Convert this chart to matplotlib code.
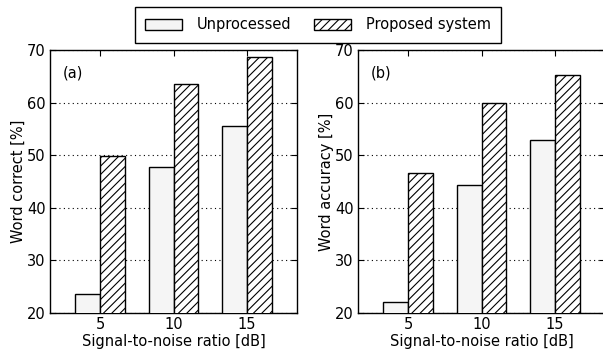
import matplotlib
matplotlib.use("Agg")
import matplotlib.pyplot as plt
from matplotlib.patches import Patch

snr = [5, 10, 15]
correct_unprocessed = [23.7, 47.7, 55.6]
correct_proposed = [49.8, 63.5, 68.6]
accuracy_unprocessed = [22.0, 44.4, 52.8]
accuracy_proposed = [46.7, 60.0, 65.2]

plt.rcParams["font.size"] = 10.5
plt.rcParams["hatch.linewidth"] = 0.8
plt.rcParams["xtick.direction"] = "in"
plt.rcParams["ytick.direction"] = "in"

fig = plt.figure(figsize=(6.03, 3.51), dpi=100)
W, H = 603.0, 351.0
ax1 = fig.add_axes([50 / W, 1 - 313 / H, 247 / W, 263 / H])
ax2 = fig.add_axes([358 / W, 1 - 313 / H, 247 / W, 263 / H])

bw = 1.7


def draw(ax, unproc, prop, ylabel, tag):
    ax.bar([s - bw / 2 for s in snr], unproc, bw, color="#f5f5f5",
           edgecolor="black", linewidth=1.0, zorder=3)
    ax.bar([s + bw / 2 for s in snr], prop, bw, color="white",
           edgecolor="black", hatch="////", linewidth=1.0, zorder=3)
    ax.set_xlim(1.6, 18.4)
    ax.set_ylim(20, 70)
    ax.set_xticks(snr)
    ax.set_yticks([20, 30, 40, 50, 60, 70])
    ax.tick_params(top=True, right=True, length=4, width=0.8, pad=3)
    ax.yaxis.grid(True, linestyle=(0, (1, 3)), color="black", linewidth=0.8)
    ax.set_axisbelow(True)
    ax.set_xlabel("Signal-to-noise ratio [dB]", labelpad=1)
    ax.set_ylabel(ylabel, labelpad=1)
    ax.text(0.05, 0.94, tag, transform=ax.transAxes, va="top", ha="left")
    for sp in ax.spines.values():
        sp.set_linewidth(1.0)


draw(ax1, correct_unprocessed, correct_proposed, "Word correct [%]", "(a)")
draw(ax2, accuracy_unprocessed, accuracy_proposed, "Word accuracy [%]", "(b)")

handles = [
    Patch(facecolor="#f5f5f5", edgecolor="black", linewidth=1.0),
    Patch(facecolor="white", edgecolor="black", hatch="////", linewidth=1.0),
]
leg = fig.legend(handles, ["Unprocessed", "Proposed system"], ncol=2,
                 loc="center", bbox_to_anchor=(318 / W, 1 - 25 / H),
                 frameon=True, fancybox=False, edgecolor="black",
                 framealpha=1, borderpad=0.75, columnspacing=1.6,
                 handlelength=2.5, handletextpad=1.0)
leg.get_frame().set_linewidth(1.0)

fig.savefig("out.png", dpi=100)
